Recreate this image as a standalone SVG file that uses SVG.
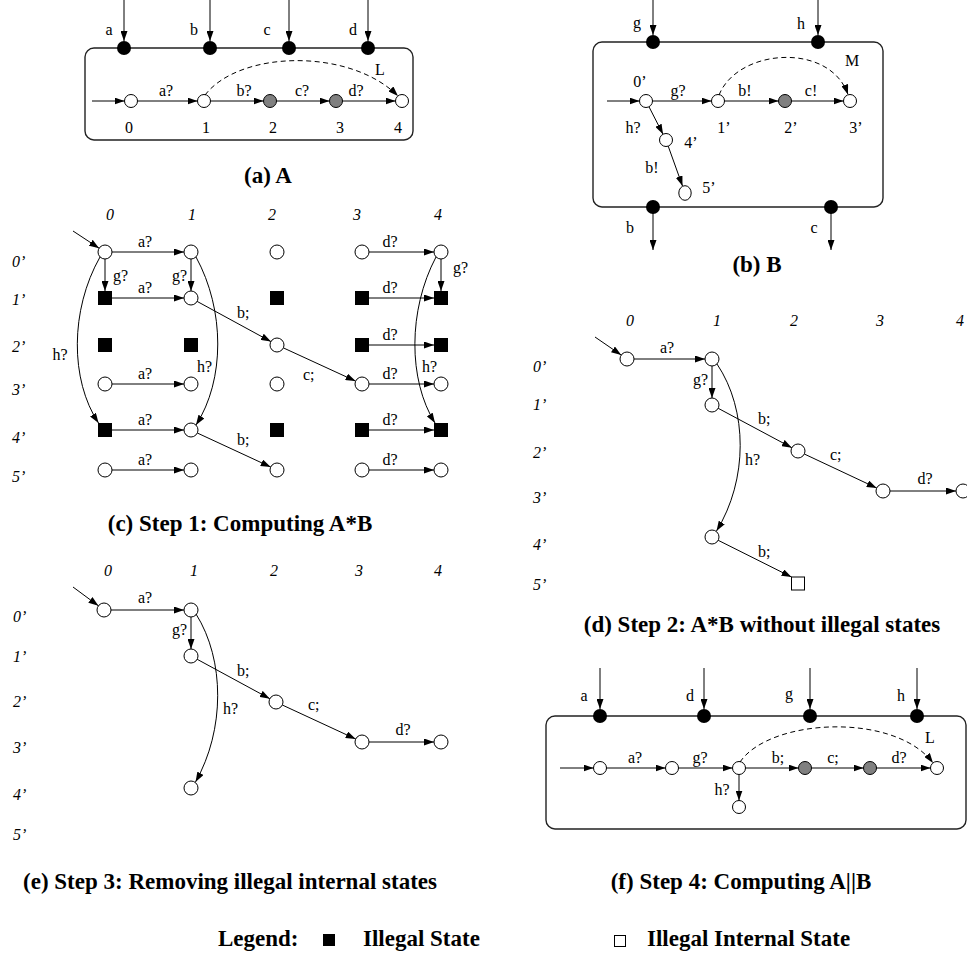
<svg xmlns="http://www.w3.org/2000/svg" width="967" height="958" viewBox="0 0 967 958">
<defs>
<marker id="ah" markerWidth="10" markerHeight="7" refX="10" refY="3.5" orient="auto" markerUnits="userSpaceOnUse">
<path d="M0,0 L10,3.5 L0,7 Z" fill="#000"/>
</marker>
<style>
.n{fill:#fff;stroke:#000;stroke-width:1}
.gr{fill:#808080;stroke:#000;stroke-width:1}
.p{fill:#000}
.sq{fill:#000}
.wsq{fill:#fff;stroke:#000;stroke-width:1}
.box{fill:none;stroke:#222;stroke-width:1.4}
.e{fill:none;stroke:#000;stroke-width:1;marker-end:url(#ah)}
.dsh{stroke-dasharray:5 3.5}
text{font-family:"Liberation Serif","Times New Roman",serif;font-size:16px;fill:#000}
.m{text-anchor:middle}
.en{text-anchor:end}
.i{font-style:italic}
.cap{font-weight:bold;font-size:23px;text-anchor:middle}
.lg{font-weight:bold;font-size:23px}
</style>
</defs>
<rect width="967" height="958" fill="#fff"/>

<!-- ================= (a) A ================= -->
<g id="a-box"><rect x="85" y="48" width="328" height="92" rx="9" class="box"/></g>
<g id="a-port-a"><circle cx="124" cy="48" r="7" class="p"/><text x="109" y="35" class="m">a</text></g>
<g id="a-port-b"><circle cx="210" cy="48" r="7" class="p"/><text x="194" y="35" class="m">b</text></g>
<g id="a-port-c"><circle cx="289" cy="48" r="7" class="p"/><text x="267" y="35" class="m">c</text></g>
<g id="a-port-d"><circle cx="368" cy="48" r="7" class="p"/><text x="353" y="35" class="m">d</text></g>
<g id="a-s0"><circle cx="131" cy="101" r="6.5" class="n"/><text x="129" y="133" class="m">0</text></g>
<g id="a-s1"><circle cx="204" cy="101" r="6.5" class="n"/><text x="206" y="133" class="m">1</text></g>
<g id="a-s2"><circle cx="270" cy="101" r="6.5" class="gr"/><text x="273" y="133" class="m">2</text></g>
<g id="a-s3"><circle cx="336" cy="101" r="6.5" class="gr"/><text x="340" y="133" class="m">3</text></g>
<g id="a-s4"><circle cx="402" cy="101" r="6.5" class="n"/><text x="398" y="133" class="m">4</text></g>
<text x="268" y="183" class="cap">(a) A</text>

<!-- ================= (b) B ================= -->
<g id="b-box"><rect x="593" y="42" width="290" height="165" rx="9" class="box"/></g>
<g id="b-port-g"><circle cx="653" cy="42" r="7" class="p"/><text x="637" y="28" class="m">g</text></g>
<g id="b-port-h"><circle cx="818" cy="42" r="7" class="p"/><text x="801" y="29" class="m">h</text></g>
<g id="b-port-b"><circle cx="653" cy="207" r="7" class="p"/><text x="630" y="233" class="m">b</text></g>
<g id="b-port-c"><circle cx="831" cy="207" r="7" class="p"/><text x="814" y="233" class="m">c</text></g>
<g id="b-s0"><circle cx="646" cy="101" r="6.5" class="n"/><text x="640" y="87" class="m">0’</text></g>
<g id="b-s1"><circle cx="718" cy="101" r="6.5" class="n"/><text x="724" y="133" class="m">1’</text></g>
<g id="b-s2"><circle cx="785" cy="101" r="6.5" class="gr"/><text x="791" y="133" class="m">2’</text></g>
<g id="b-s3"><circle cx="850" cy="101" r="6.5" class="n"/><text x="856" y="133" class="m">3’</text></g>
<g id="b-s4"><circle cx="666" cy="140" r="6.5" class="n"/><text x="691" y="148" class="m">4’</text></g>
<g id="b-s5"><ellipse cx="685" cy="193" rx="6.2" ry="7.3" class="n"/><text x="709" y="193" class="m">5’</text></g>
<text x="757" y="272" class="cap">(b) B</text>

<!-- ================= (c) grid ================= -->
<g id="c-axis">
<text x="110" y="220" class="m i">0</text><text x="192" y="220" class="m i">1</text><text x="272" y="220" class="m i">2</text><text x="357" y="220" class="m i">3</text><text x="438" y="220" class="m i">4</text>
<text x="12" y="267" class="i">0’</text><text x="12" y="305" class="i">1’</text><text x="12" y="352" class="i">2’</text><text x="12" y="395" class="i">3’</text><text x="12" y="443" class="i">4’</text><text x="12" y="482" class="i">5’</text>
</g>
<g id="c-0-0"><circle cx="105" cy="252" r="7" class="n"/></g>
<g id="c-1-0"><circle cx="191" cy="252" r="7" class="n"/></g>
<g id="c-2-0"><circle cx="277" cy="252" r="7" class="n"/></g>
<g id="c-3-0"><circle cx="362" cy="252" r="7" class="n"/></g>
<g id="c-4-0"><circle cx="441" cy="252" r="7" class="n"/></g>
<g id="c-0-1"><rect x="98" y="291" width="14" height="14" class="sq"/></g>
<g id="c-1-1"><circle cx="191" cy="298" r="7" class="n"/></g>
<g id="c-2-1"><rect x="270" y="291" width="14" height="14" class="sq"/></g>
<g id="c-3-1"><rect x="355" y="291" width="14" height="14" class="sq"/></g>
<g id="c-4-1"><rect x="434" y="291" width="14" height="14" class="sq"/></g>
<g id="c-0-2"><rect x="98" y="338" width="14" height="14" class="sq"/></g>
<g id="c-1-2"><rect x="184" y="338" width="14" height="14" class="sq"/></g>
<g id="c-2-2"><circle cx="277" cy="345" r="7" class="n"/></g>
<g id="c-3-2"><rect x="355" y="338" width="14" height="14" class="sq"/></g>
<g id="c-4-2"><rect x="434" y="338" width="14" height="14" class="sq"/></g>
<g id="c-0-3"><circle cx="105" cy="384" r="7" class="n"/></g>
<g id="c-1-3"><circle cx="191" cy="384" r="7" class="n"/></g>
<g id="c-2-3"><circle cx="277" cy="384" r="7" class="n"/></g>
<g id="c-3-3"><circle cx="362" cy="384" r="7" class="n"/></g>
<g id="c-4-3"><circle cx="441" cy="384" r="7" class="n"/></g>
<g id="c-0-4"><rect x="98" y="423" width="14" height="14" class="sq"/></g>
<g id="c-1-4"><circle cx="191" cy="430" r="7" class="n"/></g>
<g id="c-2-4"><rect x="270" y="423" width="14" height="14" class="sq"/></g>
<g id="c-3-4"><rect x="355" y="423" width="14" height="14" class="sq"/></g>
<g id="c-4-4"><rect x="434" y="423" width="14" height="14" class="sq"/></g>
<g id="c-0-5"><circle cx="105" cy="470" r="7" class="n"/></g>
<g id="c-1-5"><circle cx="191" cy="470" r="7" class="n"/></g>
<g id="c-2-5"><circle cx="277" cy="470" r="7" class="n"/></g>
<g id="c-3-5"><circle cx="362" cy="470" r="7" class="n"/></g>
<g id="c-4-5"><circle cx="441" cy="470" r="7" class="n"/></g>
<text x="240" y="531" class="cap">(c) Step 1: Computing A*B</text>

<!-- ================= (d) ================= -->
<g id="d-axis">
<text x="630" y="326" class="m i">0</text><text x="717" y="326" class="m i">1</text><text x="794" y="326" class="m i">2</text><text x="880" y="326" class="m i">3</text><text x="960" y="326" class="m i">4</text>
<text x="533" y="372" class="i">0’</text><text x="533" y="410" class="i">1’</text><text x="533" y="458" class="i">2’</text><text x="533" y="503" class="i">3’</text><text x="533" y="550" class="i">4’</text><text x="533" y="590" class="i">5’</text>
</g>
<g id="d-0-0"><circle cx="627" cy="359" r="7" class="n"/></g>
<g id="d-1-0"><circle cx="712" cy="359" r="7" class="n"/></g>
<g id="d-1-1"><circle cx="712" cy="405" r="7" class="n"/></g>
<g id="d-2-2"><circle cx="798" cy="451" r="7" class="n"/></g>
<g id="d-3-3"><circle cx="883" cy="491" r="7" class="n"/></g>
<g id="d-4-3"><circle cx="963" cy="491" r="7" class="n"/></g>
<g id="d-1-4"><circle cx="712" cy="537" r="7" class="n"/></g>
<g id="d-2-5"><rect x="791.5" y="577" width="13" height="13" class="wsq"/></g>
<text x="762" y="632" class="cap">(d) Step 2: A*B without illegal states</text>

<!-- ================= (e) ================= -->
<g id="e-axis">
<text x="108" y="576" class="m i">0</text><text x="194" y="576" class="m i">1</text><text x="274" y="576" class="m i">2</text><text x="359" y="576" class="m i">3</text><text x="438" y="576" class="m i">4</text>
<text x="13" y="622" class="i">0’</text><text x="13" y="662" class="i">1’</text><text x="13" y="707" class="i">2’</text><text x="13" y="753" class="i">3’</text><text x="13" y="800" class="i">4’</text><text x="13" y="840" class="i">5’</text>
</g>
<g id="e-0-0"><circle cx="104" cy="610" r="7" class="n"/></g>
<g id="e-1-0"><circle cx="191" cy="610" r="7" class="n"/></g>
<g id="e-1-1"><circle cx="191" cy="656" r="7" class="n"/></g>
<g id="e-2-2"><circle cx="276" cy="702" r="7" class="n"/></g>
<g id="e-3-3"><circle cx="362" cy="742" r="7" class="n"/></g>
<g id="e-4-3"><circle cx="441" cy="742" r="7" class="n"/></g>
<g id="e-1-4"><circle cx="191" cy="788" r="7" class="n"/></g>
<text x="230" y="889" class="cap">(e) Step 3: Removing illegal internal states</text>

<!-- ================= (f) ================= -->
<g id="f-box"><rect x="546" y="716" width="420" height="113" rx="9" class="box"/></g>
<g id="f-port-a"><circle cx="600" cy="716" r="7" class="p"/><text x="584" y="701" class="m">a</text></g>
<g id="f-port-d"><circle cx="704" cy="716" r="7" class="p"/><text x="690" y="701" class="m">d</text></g>
<g id="f-port-g"><circle cx="810" cy="716" r="7" class="p"/><text x="789" y="699" class="m">g</text></g>
<g id="f-port-h"><circle cx="917" cy="716" r="7" class="p"/><text x="901" y="701" class="m">h</text></g>
<g id="f-s0"><circle cx="600" cy="768" r="6.5" class="n"/></g>
<g id="f-s1"><circle cx="672" cy="768" r="6.5" class="n"/></g>
<g id="f-s2"><circle cx="739" cy="768" r="6.5" class="n"/></g>
<g id="f-s3"><circle cx="805" cy="768" r="6.5" class="gr"/></g>
<g id="f-s4"><circle cx="870" cy="768" r="6.5" class="gr"/></g>
<g id="f-s5"><circle cx="937" cy="768" r="6.5" class="n"/></g>
<g id="f-s6"><circle cx="739" cy="807" r="6.5" class="n"/></g>
<text x="741" y="889" class="cap">(f) Step 4: Computing A||B</text>

<!-- ================= legend ================= -->
<g id="legend">
<text x="218" y="946" class="lg">Legend:</text>
<rect x="323" y="934" width="12" height="12" class="sq"/>
<text x="363" y="946" class="lg">Illegal State</text>
<rect x="614.5" y="935.5" width="11" height="11" class="wsq"/>
<text x="647" y="946" class="lg">Illegal Internal State</text>
</g>

<!-- ================= connectors ================= -->
<g id="connectors">
<!-- (a) -->
<line x1="124" y1="0" x2="124" y2="41" class="e"/>
<line x1="210" y1="0" x2="210" y2="41" class="e"/>
<line x1="289" y1="0" x2="289" y2="41" class="e"/>
<line x1="368" y1="0" x2="368" y2="41" class="e"/>
<line x1="92" y1="101" x2="124.5" y2="101" class="e"/>
<line x1="137.5" y1="101" x2="197.5" y2="101" class="e"/><text x="166" y="96" class="m">a?</text>
<line x1="210.5" y1="101" x2="263.5" y2="101" class="e"/><text x="244" y="96" class="m">b?</text>
<line x1="276.5" y1="101" x2="329.5" y2="101" class="e"/><text x="302" y="96" class="m">c?</text>
<line x1="342.5" y1="101" x2="395.5" y2="101" class="e"/><text x="356" y="96" class="m">d?</text>
<path d="M205 95 C240 50, 350 48, 398 96" class="e dsh"/><text x="380" y="75" class="m">L</text>
<!-- (b) -->
<line x1="653" y1="0" x2="653" y2="35" class="e"/>
<line x1="818" y1="0" x2="818" y2="35" class="e"/>
<line x1="653" y1="207" x2="653" y2="250" class="e"/>
<line x1="831" y1="207" x2="831" y2="250" class="e"/>
<line x1="607" y1="101" x2="639.5" y2="101" class="e"/>
<line x1="652.5" y1="101" x2="711.5" y2="101" class="e"/><text x="678" y="96" class="m">g?</text>
<line x1="724.5" y1="101" x2="778.5" y2="101" class="e"/><text x="745" y="96" class="m">b!</text>
<line x1="791.5" y1="101" x2="843.5" y2="101" class="e"/><text x="811" y="96" class="m">c!</text>
<line x1="649" y1="106.8" x2="663" y2="134.2" class="e"/><text x="633" y="133" class="m">h?</text>
<line x1="668.2" y1="146.1" x2="682.5" y2="186" class="e"/><text x="652" y="173" class="m">b!</text>
<path d="M719 95 C738 48, 830 42, 848 94.5" class="e dsh"/><text x="852" y="66" class="m">M</text>
<!-- (c) -->
<line x1="73" y1="231" x2="99.1" y2="248.2" class="e"/>
<line x1="112" y1="252" x2="184" y2="252" class="e"/><text x="145" y="247" class="m">a?</text>
<line x1="112" y1="298" x2="184" y2="298" class="e"/><text x="145" y="293" class="m">a?</text>
<line x1="112" y1="384" x2="184" y2="384" class="e"/><text x="145" y="379" class="m">a?</text>
<line x1="112" y1="430" x2="184" y2="430" class="e"/><text x="145" y="425" class="m">a?</text>
<line x1="112" y1="470" x2="184" y2="470" class="e"/><text x="145" y="465" class="m">a?</text>
<line x1="105" y1="259" x2="105" y2="291" class="e"/><text x="113" y="281">g?</text>
<line x1="191" y1="259" x2="191" y2="291" class="e"/><text x="187" y="281" class="en">g?</text>
<path d="M100 257 C70 310, 70 380, 98.5 423" class="e"/><text x="60" y="360" class="m">h?</text>
<path d="M196 257 C225 310, 225 380, 196 425" class="e"/><text x="197" y="372">h?</text>
<line x1="197.1" y1="301.4" x2="270.9" y2="341.6" class="e"/><text x="237" y="318">b;</text>
<line x1="197.3" y1="433" x2="270.7" y2="467" class="e"/><text x="237" y="445">b;</text>
<line x1="283.4" y1="347.9" x2="355.6" y2="381.1" class="e"/><text x="303" y="380">c;</text>
<line x1="369" y1="252" x2="434" y2="252" class="e"/><text x="390" y="247" class="m">d?</text>
<line x1="369" y1="298" x2="434" y2="298" class="e"/><text x="390" y="293" class="m">d?</text>
<line x1="369" y1="345" x2="434" y2="345" class="e"/><text x="390" y="340" class="m">d?</text>
<line x1="369" y1="384" x2="434" y2="384" class="e"/><text x="390" y="379" class="m">d?</text>
<line x1="369" y1="430" x2="434" y2="430" class="e"/><text x="390" y="425" class="m">d?</text>
<line x1="369" y1="470" x2="434" y2="470" class="e"/><text x="390" y="465" class="m">d?</text>
<line x1="441" y1="259" x2="441" y2="291" class="e"/><text x="453" y="273">g?</text>
<path d="M436 257 C408 310, 408 380, 435 423" class="e"/><text x="422" y="372">h?</text>
<!-- (d) -->
<line x1="595" y1="337" x2="621.2" y2="355" class="e"/>
<line x1="634" y1="359" x2="705" y2="359" class="e"/><text x="667" y="353" class="m">a?</text>
<line x1="712" y1="366" x2="712" y2="398" class="e"/><text x="708" y="385" class="en">g?</text>
<path d="M717 364 C748 410, 748 480, 716.5 531" class="e"/><text x="745" y="465">h?</text>
<line x1="718.2" y1="408.3" x2="791.8" y2="447.7" class="e"/><text x="758" y="424">b;</text>
<line x1="804.3" y1="454" x2="876.7" y2="488" class="e"/><text x="830" y="460">c;</text>
<line x1="890" y1="491" x2="956" y2="491" class="e"/><text x="925" y="484" class="m">d?</text>
<line x1="718.2" y1="540.3" x2="791.5" y2="577" class="e"/><text x="758" y="557">b;</text>
<!-- (e) -->
<line x1="73" y1="587" x2="98.4" y2="605.8" class="e"/>
<line x1="111" y1="610" x2="184" y2="610" class="e"/><text x="145" y="603" class="m">a?</text>
<line x1="191" y1="617" x2="191" y2="649" class="e"/><text x="187" y="635" class="en">g?</text>
<path d="M196 614 C225 660, 225 730, 195.5 782" class="e"/><text x="223" y="714">h?</text>
<line x1="197.2" y1="659.3" x2="269.8" y2="698.7" class="e"/><text x="237" y="676">b;</text>
<line x1="282.3" y1="705" x2="355.7" y2="739" class="e"/><text x="308" y="710">c;</text>
<line x1="369" y1="742" x2="434" y2="742" class="e"/><text x="403" y="735" class="m">d?</text>
<!-- (f) -->
<line x1="600" y1="668" x2="600" y2="709" class="e"/>
<line x1="704" y1="668" x2="704" y2="709" class="e"/>
<line x1="810" y1="668" x2="810" y2="709" class="e"/>
<line x1="917" y1="668" x2="917" y2="709" class="e"/>
<line x1="560" y1="768" x2="593.5" y2="768" class="e"/>
<line x1="606.5" y1="768" x2="665.5" y2="768" class="e"/><text x="635" y="763" class="m">a?</text>
<line x1="678.5" y1="768" x2="732.5" y2="768" class="e"/><text x="700" y="763" class="m">g?</text>
<line x1="745.5" y1="768" x2="798.5" y2="768" class="e"/><text x="778" y="763" class="m">b;</text>
<line x1="811.5" y1="768" x2="863.5" y2="768" class="e"/><text x="833" y="763" class="m">c;</text>
<line x1="876.5" y1="768" x2="930.5" y2="768" class="e"/><text x="899" y="763" class="m">d?</text>
<line x1="739" y1="774.5" x2="739" y2="800.5" class="e"/><text x="722" y="795" class="m">h?</text>
<path d="M740 762 C770 718, 895 712, 933 763" class="e dsh"/><text x="930" y="743" class="m">L</text>
</g>
</svg>
